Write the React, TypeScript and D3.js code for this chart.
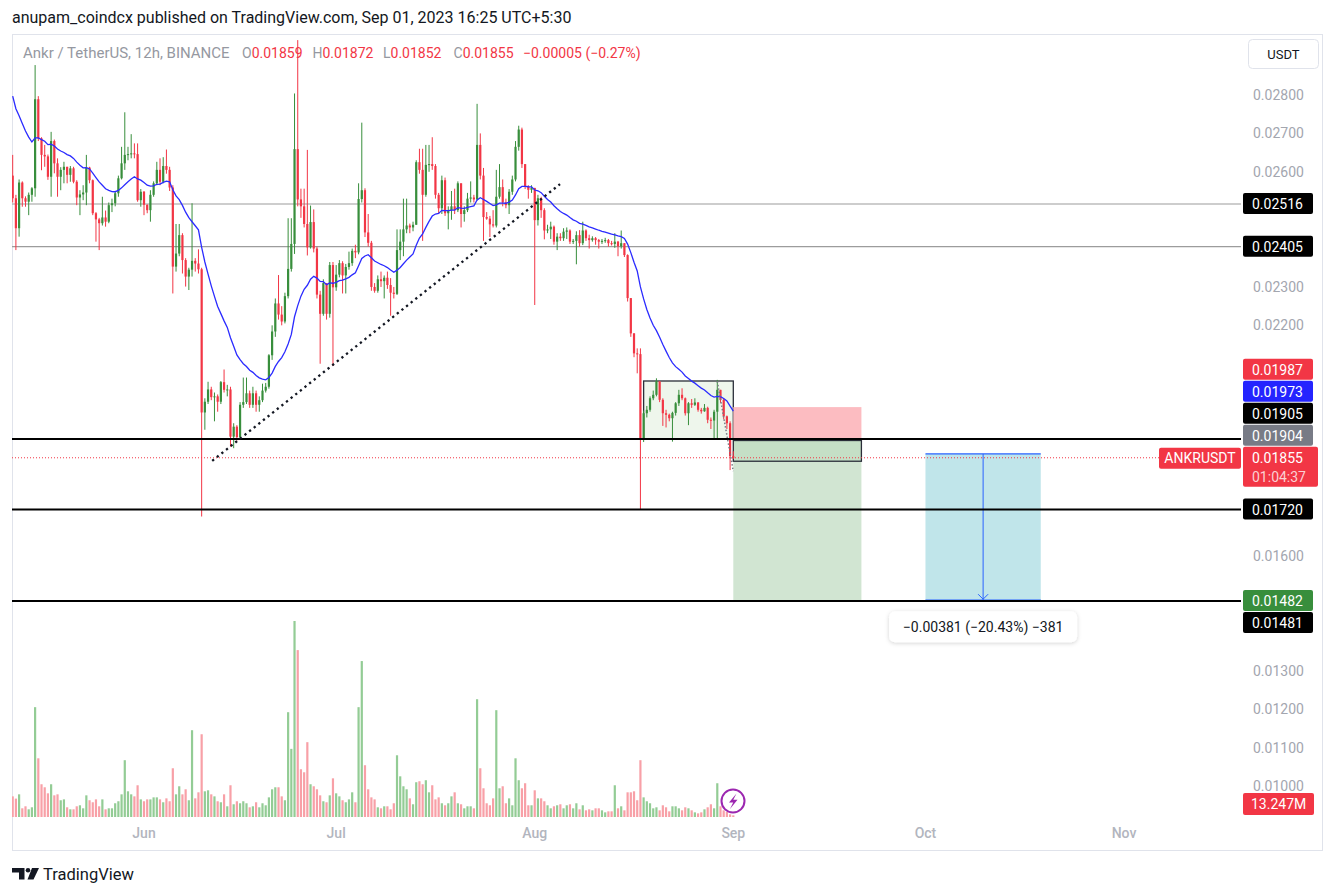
import React from "react";
import * as d3 from "d3";

// ---------- DATA (prices in units of 0.00001 USDT, 12h candles from 2023-05-11 12:00 UTC) ----------
const PRICE_UNIT = 1e-5;
const firstOpen = 2590;
const closes = [
  2531,2453,2572,2531,2522,2540,2557,2789,2687,2644,
  2640,2587,2680,2622,2587,2605,2613,2592,2609,2574,
  2533,2541,2546,2611,2578,2492,2476,2466,2481,2470,
  2513,2518,2544,2583,2622,2644,2646,2648,2646,2526,
  2548,2514,2500,2540,2570,2605,2574,2615,2605,2559,
  2353,2387,2435,2370,2327,2345,2368,2361,2346,1973,
  2001,2033,2013,2015,2001,2052,2032,2033,1910,1936,
  1909,1993,2000,2023,1993,2023,1993,2005,2030,2040,
  2122,2184,2257,2228,2210,2276,2347,2412,2659,2528,
  2510,2464,2403,2469,2400,2280,2230,2310,2230,2357,
  2299,2332,2362,2330,2352,2362,2394,2390,2529,2552,
  2442,2415,2300,2290,2320,2315,2324,2305,2285,2282,
  2396,2418,2450,2460,2455,2462,2625,2605,2540,2618,
  2620,2615,2540,2505,2578,2492,2500,2510,2500,2570,
  2490,2500,2530,2533,2528,2670,2590,2482,2478,2463,
  2460,2535,2560,2520,2513,2548,2580,2665,2710,2620,
  2561,2553,2558,2474,2531,2500,2447,2450,2457,2418,
  2431,2427,2444,2447,2418,2420,2435,2414,2447,2427,
  2422,2427,2422,2418,2420,2422,2414,2412,2418,2406,
  2414,2383,2271,2179,2127,2125,1906,1971,1980,2010,
  2019,2054,2006,1971,1967,1958,1972,1997,2019,2010,
  1971,1997,1993,1999,1980,1976,1985,1954,1952,1975,
  2032,2006,1963,1945,1859,1855,
];
const highs = [
  2644,2540,2580,2575,2536,2546,2560,2878,2797,2690,
  2670,2645,2704,2684,2635,2612,2626,2613,2615,2613,
  2578,2552,2565,2644,2613,2580,2495,2480,2535,2499,
  2520,2530,2550,2590,2665,2755,2665,2698,2674,2674,
  2555,2550,2515,2552,2575,2626,2635,2638,2658,2613,
  2565,2464,2464,2440,2375,2350,2518,2375,2398,2350,
  2010,2053,2040,2025,2020,2055,2085,2045,2040,1945,
  1940,2000,2064,2064,2030,2040,2030,2015,2048,2050,
  2125,2200,2270,2331,2250,2285,2479,2479,2804,2943,
  2556,2556,2657,2512,2502,2405,2290,2320,2310,2365,
  2365,2357,2370,2367,2360,2392,2400,2410,2570,2728,
  2557,2490,2420,2310,2330,2340,2330,2340,2323,2300,
  2450,2450,2530,2530,2465,2470,2630,2660,2660,2670,
  2670,2690,2620,2545,2590,2585,2510,2550,2556,2575,
  2570,2510,2545,2575,2540,2777,2700,2610,2495,2485,
  2500,2605,2620,2580,2530,2555,2590,2680,2720,2715,
  2620,2565,2565,2553,2540,2535,2505,2462,2470,2460,
  2440,2440,2453,2455,2450,2425,2445,2448,2470,2450,
  2436,2432,2430,2425,2425,2428,2425,2420,2440,2420,
  2447,2414,2385,2271,2180,2140,2140,1978,1990,2015,
  2030,2062,2054,2010,1980,1970,1975,2000,2032,2036,
  2012,2000,2008,2010,2000,1985,1995,1988,1960,1980,
  2058,2030,2010,1965,1950,1872,
];
const lows = [
  2520,2396,2431,2509,2509,2487,2522,2535,2680,2604,
  2613,2579,2535,2596,2535,2552,2570,2570,2574,2570,
  2513,2487,2526,2513,2570,2487,2418,2396,2460,2457,
  2466,2495,2510,2535,2580,2605,2630,2635,2635,2522,
  2509,2487,2492,2470,2535,2565,2565,2570,2595,2550,
  2283,2340,2380,2335,2301,2292,2327,2340,2335,1702,
  1928,1995,2005,1950,1975,1995,2025,2015,1884,1880,
  1900,1905,1985,1995,1985,1985,1975,1975,2000,2025,
  2035,2110,2170,2215,2200,2205,2270,2340,2386,2510,
  2480,2455,2382,2400,2390,2270,2100,2225,2215,2220,
  2094,2290,2325,2283,2283,2345,2355,2375,2385,2520,
  2430,2405,2290,2285,2285,2300,2270,2295,2225,2270,
  2279,2370,2380,2440,2440,2445,2467,2595,2420,2535,
  2600,2605,2530,2490,2490,2485,2450,2475,2490,2495,
  2455,2470,2495,2520,2520,2525,2580,2420,2475,2430,
  2455,2455,2530,2510,2505,2490,2540,2575,2655,2610,
  2555,2530,2545,2253,2460,2480,2424,2440,2425,2410,
  2396,2420,2420,2425,2412,2412,2359,2405,2409,2420,
  2400,2418,2410,2400,2412,2415,2405,2408,2402,2380,
  2400,2378,2262,2170,2117,2075,1719,1896,1960,1975,
  2005,2015,2000,1938,1934,1950,1897,1965,1990,2005,
  1965,1940,1985,1990,1975,1970,1975,1945,1930,1905,
  1906,1998,1955,1930,1823,1852,
];
// volume in millions
const volumesM = [
  164,146,180,69,85,61,77,872,466,260,
  236,188,260,172,180,133,140,77,61,61,
  85,93,69,172,133,117,140,85,140,61,
  69,69,109,125,180,451,204,180,164,252,
  140,125,140,140,156,156,140,117,148,125,
  387,180,244,180,220,133,689,148,196,657,
  204,212,180,164,125,117,180,85,252,101,
  125,109,125,109,77,85,117,77,109,93,
  156,220,236,236,164,133,832,541,1556,1325,
  379,355,594,260,244,220,172,125,117,172,
  307,188,164,133,117,140,196,117,872,1238,
  411,220,156,140,77,69,85,85,61,109,
  490,323,244,220,148,101,276,284,260,292,
  196,252,140,156,109,93,109,164,196,109,
  101,69,85,85,69,935,387,228,109,93,
  148,848,228,244,109,148,93,466,292,228,
  268,93,93,212,148,148,125,93,69,85,
  93,101,69,93,101,69,109,61,93,53,
  61,53,69,69,53,37,45,45,252,69,
  85,53,196,196,204,133,451,156,125,109,
  69,77,53,93,77,45,85,85,69,53,
  77,69,53,37,29,37,61,77,101,69,
  268,85,53,40,21,13.247,
];
const firstCandleUtc = Date.UTC(2023, 4, 11, 12);
const HALF_DAY = 12 * 3600 * 1000;
const emaPeriod = 20;
const emaPrev = 2825;

const header = "anupam_coindcx published on TradingView.com, Sep 01, 2023 16:25 UTC+5:30";
const symbolTitle = "Ankr / TetherUS, 12h, BINANCE";
const ohlcLegend = [
  { k: "O", v: "0.01859" },
  { k: "H", v: "0.01872" },
  { k: "L", v: "0.01852" },
  { k: "C", v: "0.01855" },
];
const changeText = "\u22120.00005 (\u22120.27%)";

const blackLevels = [0.01904, 0.0172, 0.01482];
const grayLevels = [0.02516, 0.02405];
const lastPrice = 0.01855;
const countdown = "01:04:37";
const symbol = "ANKRUSDT";
const axisLabels = [
  { v: 0.02516, bg: "#000000" },
  { v: 0.02405, bg: "#000000" },
  { v: 0.01987, bg: "#f23645" },
  { v: 0.01973, bg: "#2424ff" },
  { v: 0.01905, bg: "#000000" },
  { v: 0.01904, bg: "#787b86" },
  { v: 0.0172, bg: "#000000" },
  { v: 0.01482, bg: "#388e3c" },
  { v: 0.01481, bg: "#000000" },
];
// drawings (anchors: candle index, price)
const rangeBox = { i1: 197, i2: 225, p1: 0.02055, p2: 0.01904 };
const shortPos = { i1: 225, i2: 265, stop: 0.01987, entry: 0.01904, target: 0.01482 };
const entryBox = { i1: 225, i2: 265, p1: 0.019, p2: 0.01846 };
const measure = { i1: 285, i2: 321, p1: 0.01865, p2: 0.01484 };
const trendLine = { i1: 62.3, p1: 0.01847, i2: 170.9, p2: 0.02568 };
const fallLine = { i1: 220, p1: 0.02054, i2: 225, p2: 0.0182 };

const FONT = "Roboto, 'Noto Sans', Arial, sans-serif";

export default function App() {
  const left = 12, plotRight = 1241, top = 34, paneBottom = 817, frameBottom = 851, frameRight = 1323;
  const t = (i: number) => new Date(firstCandleUtc + i * HALF_DAY);
  const x = d3
    .scaleUtc()
    .domain([new Date(Date.UTC(2023, 5, 1)), new Date(Date.UTC(2023, 8, 1))])
    .range([144, 733.3]);
  const y = d3.scaleLinear().domain([0.01, 0.028]).range([786, 95]);
  const xi = (i: number) => x(t(i));

  const candles = closes.map((c, i) => {
    const o = i === 0 ? firstOpen : closes[i - 1];
    return {
      i,
      o: o * PRICE_UNIT,
      c: c * PRICE_UNIT,
      h: Math.max(highs[i], o, c) * PRICE_UNIT,
      l: Math.min(lows[i], o, c) * PRICE_UNIT,
      v: volumesM[i],
    };
  });
  const alpha = 2 / (emaPeriod + 1);
  let e = emaPrev * PRICE_UNIT;
  const ema = candles.map((d) => (e = e + alpha * (d.c - e)));
  const emaLine = d3
    .line<number>()
    .x((_, i) => xi(i))
    .y((v) => y(v))(ema);

  const yv = d3.scaleLinear().domain([0, d3.max(volumesM) as number]).range([paneBottom, 621]);

  const up = "#388e3c", down = "#f23645";
  const upVol = "#93cc95", downVol = "#f8a0a7";
  const bodyW = 2.2;

  // price-axis label layout: last price fixed, others pushed away
  const LH = 22;
  const lastY = y(lastPrice);
  const lastTop = lastY - 11, lastBottom = lastY + 29;
  const above = axisLabels.filter((d) => d.v > lastPrice).sort((a, b) => a.v - b.v);
  const below = axisLabels.filter((d) => d.v < lastPrice).sort((a, b) => b.v - a.v);
  const placed: { v: number; bg: string; cy: number }[] = [];
  let edge = lastTop;
  for (const d of above) {
    const cy = Math.min(y(d.v), edge - LH / 2);
    placed.push({ ...d, cy });
    edge = cy - LH / 2;
  }
  edge = lastBottom;
  for (const d of below) {
    const cy = Math.max(y(d.v), edge + LH / 2);
    placed.push({ ...d, cy });
    edge = cy + LH / 2;
  }
  const lastVol = volumesM[volumesM.length - 1];
  const volLabelY = Math.min(yv(lastVol), paneBottom - 13);
  const boxes: [number, number][] = [
    ...placed.map((d) => [d.cy - LH / 2, d.cy + LH / 2] as [number, number]),
    [lastTop, lastBottom],
    [volLabelY - 11, volLabelY + 11],
  ];
  const fmt = d3.format(".5f");
  const priceTicks = d3
    .range(10, 29)
    .map((k) => k / 1000)
    .filter((p) => !boxes.some(([a, b]) => y(p) + 7 > a && y(p) - 7 < b));
  const months = d3.utcMonth.range(new Date(Date.UTC(2023, 5, 1)), new Date(Date.UTC(2023, 10, 2)));

  const mx1 = xi(measure.i1), mx2 = xi(measure.i2), mxc = (mx1 + mx2) / 2;
  const my1 = y(measure.p1), my2 = y(measure.p2);
  const diff = measure.p2 - measure.p1;
  const minus = (s: string) => s.replace("-", "\u2212");
  const measureText = `${minus(d3.format(".5f")(diff))} (${minus(d3.format(".2f")((diff / measure.p1) * 100))}%) ${minus(String(Math.round(diff / PRICE_UNIT)))}`;

  return (
    <svg width={1336} height={896} style={{ display: "block", position: "absolute", left: 0, top: 0, background: "#fff" }} fontFamily={FONT}>
      <defs>
        <clipPath id="plot">
          <rect x={left} y={top} width={plotRight - left} height={paneBottom - top} />
        </clipPath>
        <filter id="shadow" x="-20%" y="-50%" width="140%" height="200%">
          <feDropShadow dx="0" dy="1" stdDeviation="2" floodColor="#000" floodOpacity="0.18" />
        </filter>
      </defs>
      <rect width={1336} height={896} fill="#fff" />
      <text x={12} y={23} fontSize={16} fill="#131722">{header}</text>
      <rect x={left + 0.5} y={top + 0.5} width={frameRight - left - 1} height={frameBottom - top - 1} fill="none" stroke="#e0e3eb" />

      <g clipPath="url(#plot)">
        {/* volume */}
        {candles.map((d) => (
          <rect key={"v" + d.i} x={xi(d.i) - bodyW / 2} y={yv(d.v)} width={bodyW} height={paneBottom - yv(d.v)} fill={d.c >= d.o ? upVol : downVol} />
        ))}
        {/* range box */}
        <rect x={xi(rangeBox.i1)} y={y(rangeBox.p1)} width={xi(rangeBox.i2) - xi(rangeBox.i1)} height={y(rangeBox.p2) - y(rangeBox.p1)} fill="#eef6ec" stroke="#2a2e39" strokeWidth={1.3} />
        {/* short position */}
        <rect x={xi(shortPos.i1)} y={y(shortPos.stop)} width={xi(shortPos.i2) - xi(shortPos.i1)} height={y(shortPos.entry) - y(shortPos.stop)} fill="#fcbcc1" />
        <rect x={xi(shortPos.i1)} y={y(shortPos.entry)} width={xi(shortPos.i2) - xi(shortPos.i1)} height={y(shortPos.target) - y(shortPos.entry)} fill="#d1e5d2" />
        <rect x={xi(entryBox.i1)} y={y(entryBox.p1)} width={xi(entryBox.i2) - xi(entryBox.i1)} height={y(entryBox.p2) - y(entryBox.p1)} fill="#c5dfc6" stroke="#2a2e39" strokeWidth={1.3} />
        {/* measure */}
        <rect x={mx1} y={my1} width={mx2 - mx1} height={my2 - my1} fill="#c0e5ea" />
        <line x1={mx1} x2={mx2} y1={my1} y2={my1} stroke="#2962ff" strokeWidth={1.3} />
        <line x1={mx1} x2={mx2} y1={my2} y2={my2} stroke="#2962ff" strokeWidth={1.3} />
        <line x1={mxc} x2={mxc} y1={my1} y2={my2} stroke="#2962ff" strokeWidth={1} />
        <path d={`M${mxc - 5},${my2 - 6} L${mxc},${my2 - 1} L${mxc + 5},${my2 - 6}`} fill="none" stroke="#2962ff" strokeWidth={1} />

        {/* levels */}
        {grayLevels.map((p) => (
          <line key={"g" + p} x1={left} x2={plotRight} y1={y(p)} y2={y(p)} stroke="#9c9c9c" strokeWidth={1.2} />
        ))}
        <line x1={left} x2={1159} y1={lastY} y2={lastY} stroke="#f23645" strokeWidth={1} strokeDasharray="1 2" />

        {/* candles */}
        {candles.map((d) => {
          const cx = xi(d.i);
          const col = d.c >= d.o ? up : down;
          const yt = y(Math.max(d.o, d.c)), yb = y(Math.min(d.o, d.c));
          return (
            <g key={"c" + d.i}>
              <rect x={cx - 0.5} y={y(d.h)} width={1} height={y(d.l) - y(d.h)} fill={col} />
              <rect x={cx - bodyW / 2} y={yt} width={bodyW} height={Math.max(1, yb - yt)} fill={col} />
            </g>
          );
        })}
        <path d={emaLine || ""} fill="none" stroke="#2b2bff" strokeWidth={1.3} />

        {blackLevels.map((p) => (
          <line key={"b" + p} x1={left} x2={plotRight} y1={y(p)} y2={y(p)} stroke="#000" strokeWidth={2} />
        ))}
        <line x1={xi(trendLine.i1)} y1={y(trendLine.p1)} x2={xi(trendLine.i2)} y2={y(trendLine.p2)} stroke="#131722" strokeWidth={2.3} strokeDasharray="2.3 3.6" />
        <line x1={xi(fallLine.i1)} y1={y(fallLine.p1)} x2={xi(fallLine.i2)} y2={y(fallLine.p2)} stroke="#787b86" strokeWidth={1.5} strokeDasharray="1.5 2" />
      </g>

      {/* measure label */}
      <rect x={mxc - 94} y={my2 + 11} width={188} height={31} rx={6} fill="#fff" filter="url(#shadow)" />
      <text x={mxc} y={my2 + 31.5} textAnchor="middle" fontSize={14} fill="#131722">{measureText}</text>

      {/* legend */}
      <text x={23} y={58} fontSize={15} fill="#9598a1">{symbolTitle}</text>
      {ohlcLegend.map((d, k) => (
        <text key={d.k} x={242 + k * 70.5} y={58} fontSize={14}>
          <tspan fill="#9598a1">{d.k}</tspan>
          <tspan fill="#f23645">{d.v}</tspan>
        </text>
      ))}
      <text x={523} y={58} fontSize={14} fill="#f23645">{changeText}</text>

      {/* USDT button */}
      <rect x={1248.5} y={39.5} width={70} height={29} rx={4} fill="#fff" stroke="#e0e3eb" />
      <text x={1283.5} y={59} textAnchor="middle" fontSize={13} fill="#131722">USDT</text>

      {/* price axis ticks */}
      {priceTicks.map((p) => (
        <text key={"t" + p} x={1253} y={y(p) + 5} fontSize={14} fill="#a3a6af">{fmt(p)}</text>
      ))}
      {/* axis labels */}
      {placed.map((d) => (
        <g key={"l" + d.v}>
          <rect x={1243} y={d.cy - LH / 2} width={70} height={LH - 1} rx={2} fill={d.bg} />
          <text x={1252} y={d.cy + 5} fontSize={14} fill="#fff">{fmt(d.v)}</text>
        </g>
      ))}
      <rect x={1243} y={lastTop} width={75} height={lastBottom - lastTop} rx={2} fill="#f23645" />
      <text x={1252} y={lastY + 5} fontSize={14} fill="#fff">{fmt(lastPrice)}</text>
      <text x={1252} y={lastY + 24} fontSize={14} fill="#fbd0d3">{countdown}</text>
      <rect x={1159} y={lastTop + 1} width={82} height={21} rx={2} fill="#f23645" />
      <text x={1200} y={lastY + 5} textAnchor="middle" fontSize={14} fill="#fff">{symbol}</text>
      {/* volume label */}
      <rect x={1243} y={volLabelY - 11} width={71} height={22} rx={2} fill="#f23645" />
      <text x={1251} y={volLabelY + 5} fontSize={14} fill="#fff">{`${lastVol.toFixed(3)}M`}</text>

      {/* lightning icon */}
      <circle cx={733} cy={801} r={11.5} fill="#fff" stroke="#9c27b0" strokeWidth={2} />
      <path d="M736.5,793.5 L729,802.5 L733.2,802.5 L730,809 L737.5,799.8 L733.3,799.8 Z" fill="#9c27b0" />

      {/* time axis */}
      {months.map((m) => (
        <text key={m.toISOString()} x={x(m)} y={838} textAnchor="middle" fontSize={14} fontWeight={500} fill="#b2b5be">
          {d3.utcFormat("%b")(m)}
        </text>
      ))}

      {/* footer logo */}
      <path d="M12,868 H24.5 V879.5 H19 V872.5 H12 Z" fill="#131722" />
      <circle cx={28} cy={870.3} r={2.3} fill="#131722" />
      <path d="M32,868 H39 L33.5,879.5 H27.5 Z" fill="#131722" />
      <text x={43} y={880} fontSize={16.5} fill="#131722">TradingView</text>
    </svg>
  );
}
